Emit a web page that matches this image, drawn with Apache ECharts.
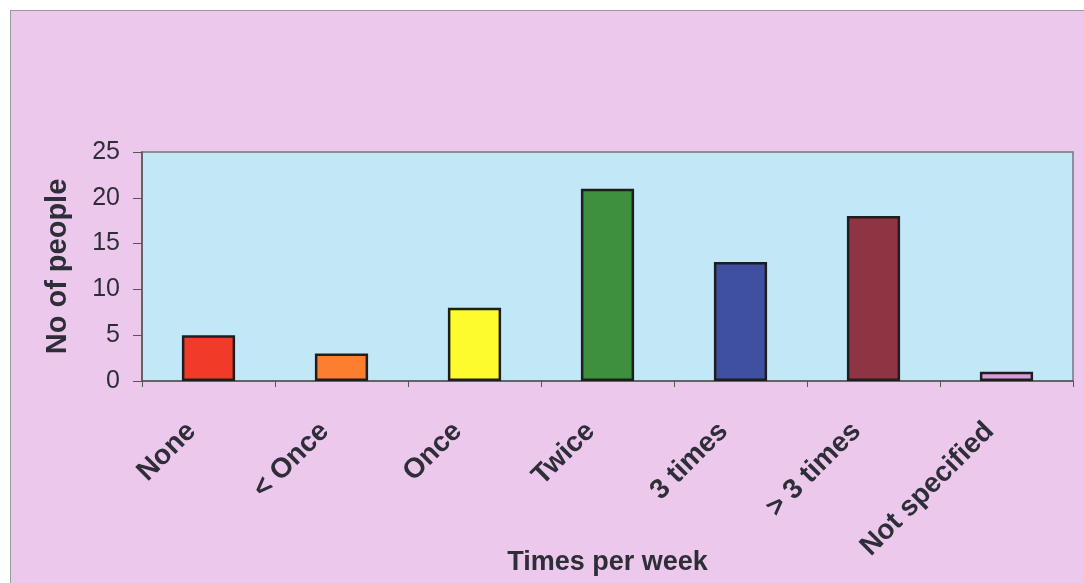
<!DOCTYPE html>
<html>
<head>
<meta charset="utf-8">
<script src="https://cdn.jsdelivr.net/npm/echarts@6/dist/echarts.min.js"></script>
<style>
  html, body { margin: 0; padding: 0; background: #ffffff; width: 1084px; height: 583px; overflow: hidden; }
  #panel { position: absolute; left: 10px; top: 10px; width: 1074px; height: 573px; background: #ecc9ec; border-left: 1px solid #9a9a9a; border-top: 1px solid #9a9a9a; box-sizing: border-box; }
  #chart { position: absolute; left: 0; top: 0; width: 1084px; height: 583px; }
</style>
</head>
<body>
<div id="panel"></div>
<div id="chart"></div>
<script>
const categories = ['None', '< Once', 'Once', 'Twice', '3 times', '> 3 times', 'Not specified'];
const values = [5, 3, 8, 21, 13, 18, 1];
const barColors = ['#f23a28', '#fb7f2f', '#fdfb2e', '#3e8f3e', '#3f4fa2', '#8e3443', '#d89cd8'];
const yTicks = [0, 5, 10, 15, 20, 25];

const chart = echarts.init(document.getElementById('chart'), null, { renderer: 'canvas' });
const textColor = '#2e2e38';
chart.setOption({
  backgroundColor: 'transparent',
  animation: false,
  grid: {
    left: 142, top: 152, right: 11, bottom: 202,
    containLabel: false, outerBoundsMode: 'none',
    show: true, backgroundColor: '#c2e8f8', borderColor: '#777777', borderWidth: 1.5
  },
  xAxis: {
    type: 'category',
    data: categories,
    name: 'Times per week',
    nameLocation: 'middle',
    nameGap: 168,
    nameMoveOverlap: false,
    nameTextStyle: { fontFamily: 'Liberation Sans, Arial', fontWeight: 'bold', fontSize: 27, color: textColor },
    axisLine: { show: true, lineStyle: { color: '#555555', width: 1.5 } },
    axisTick: { show: true, length: 6, inside: false, lineStyle: { color: '#555555' } },
    axisLabel: {
      rotate: 45, interval: 0, margin: 29, padding: [0, 24, 0, 0],
      fontFamily: 'Liberation Sans, Arial', fontWeight: 'bold', fontSize: 28, color: textColor
    },
    splitLine: { show: false }
  },
  yAxis: {
    type: 'value',
    min: yTicks[0], max: yTicks[yTicks.length - 1], interval: 5,
    name: 'No of people',
    nameLocation: 'middle',
    nameGap: 70,
    nameMoveOverlap: false,
    nameTextStyle: { fontFamily: 'Liberation Sans, Arial', fontWeight: 'bold', fontSize: 29, color: textColor },
    axisLine: { show: true, lineStyle: { color: '#555555', width: 1.5 } },
    axisTick: { show: true, length: 9, inside: false, lineStyle: { color: '#555555' } },
    axisLabel: { margin: 22, fontFamily: 'Liberation Sans, Arial', fontSize: 25, color: textColor },
    splitLine: { show: false }
  },
  series: [{
    type: 'bar',
    data: values.map((v, i) => ({ value: v, itemStyle: { color: barColors[i] } })),
    barWidth: '40%',
    itemStyle: { borderColor: '#1e1e1e', borderWidth: 2.5 }
  }]
});
</script>
</body>
</html>
